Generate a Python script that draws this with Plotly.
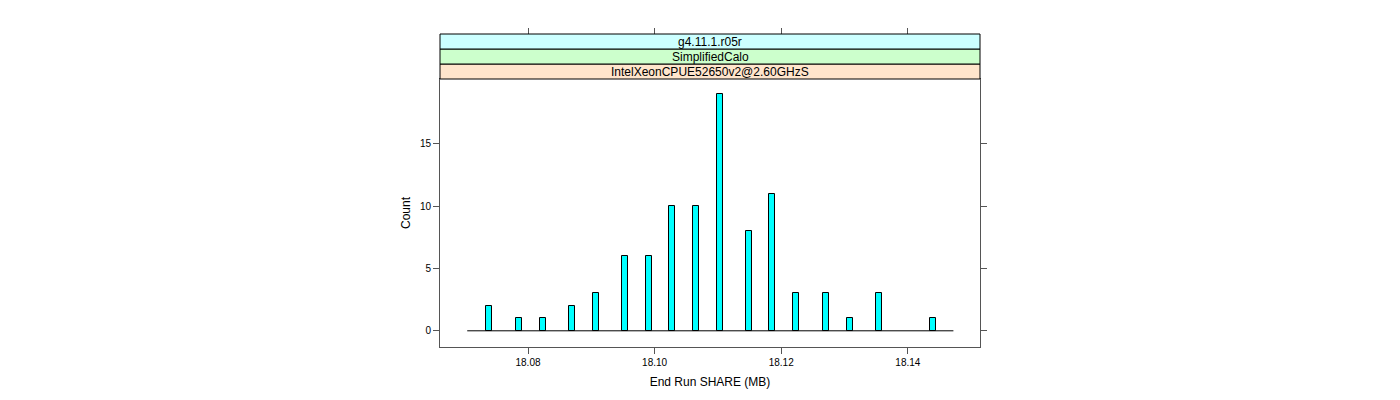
import plotly.graph_objects as go

# Data
bin_centers = [18.0739, 18.0786, 18.0823, 18.0870, 18.0907, 18.0953, 18.0991,
               18.1028, 18.1065, 18.1103, 18.1149, 18.1186, 18.1224, 18.1271,
               18.1309, 18.1355, 18.1439]
counts = [2, 1, 1, 2, 3, 6, 6, 10, 10, 19, 8, 11, 3, 3, 1, 3, 1]
bin_width = 0.00095
hist_range = [18.0704, 18.1472]
x_ticks = [18.08, 18.10, 18.12, 18.14]
x_tick_labels = ["18.08", "18.10", "18.12", "18.14"]
y_ticks = [0, 5, 10, 15]
strip_labels = ["IntelXeonCPUE52650v2@2.60GHzS", "SimplifiedCalo", "g4.11.1.r05r"]
strip_colors = ["#FFE5CC", "#CCFFCC", "#CCFFFF"]

FONT = "Liberation Sans, Arial, Helvetica, sans-serif"
AXIS_COLOR = "#555555"

fig = go.Figure()

fig.add_trace(go.Scatter(
    x=hist_range, y=[0, 0], mode="lines",
    line=dict(color="black", width=1), hoverinfo="skip", showlegend=False,
))

fig.add_trace(go.Bar(
    x=bin_centers, y=counts, width=bin_width,
    marker=dict(color="#00FFFF", line=dict(color="black", width=1)),
    showlegend=False,
))

# a hidden trace on a top axis to draw ticks above the strips
fig.add_trace(go.Scatter(x=hist_range, y=[0, 0], xaxis="x2", yaxis="y",
                         mode="none", hoverinfo="skip", showlegend=False))

panel_top = 0.8562
strip_h = (1 - panel_top) / 3

shapes = []
annotations = []
for i, (lab, col) in enumerate(zip(strip_labels, strip_colors)):
    y0 = panel_top + i * strip_h
    y1 = y0 + strip_h
    shapes.append(dict(type="rect", xref="paper", yref="paper", x0=0, x1=1,
                       y0=y0, y1=y1, fillcolor=col,
                       line=dict(color="black", width=1), layer="above"))
    annotations.append(dict(text=lab, xref="paper", yref="paper", x=0.5,
                            y=(y0 + y1) / 2, showarrow=False,
                            font=dict(family=FONT, size=12, color="black"),
                            xanchor="center", yanchor="middle"))

fig.update_layout(
    width=1392, height=392,
    margin=dict(l=432, r=420, t=26, b=53),
    paper_bgcolor="white", plot_bgcolor="white",
    font=dict(family=FONT, size=10, color="black"),
    bargap=0,
    shapes=shapes,
    annotations=annotations,
    xaxis=dict(
        range=[18.0661, 18.1514], tickvals=x_ticks, ticktext=x_tick_labels,
        ticks="outside", ticklen=6, tickcolor=AXIS_COLOR, tickwidth=1,
        showline=True, linecolor=AXIS_COLOR, linewidth=1, mirror=True,
        showgrid=False, zeroline=False,
        title=dict(text="End Run SHARE (MB)", font=dict(size=12), standoff=10),
        tickfont=dict(size=10),
    ),
    xaxis2=dict(
        range=[18.0661, 18.1514], tickvals=x_ticks, overlaying="x",
        anchor="free", position=1, side="top", showticklabels=False,
        ticks="outside", ticklen=6, tickcolor=AXIS_COLOR, tickwidth=1,
        showline=False, showgrid=False, zeroline=False,
    ),
    yaxis=dict(
        domain=[0, panel_top], range=[-1.3, 20.2], tickvals=y_ticks,
        ticks="outside", ticklen=6, tickcolor=AXIS_COLOR, tickwidth=1,
        showline=True, linecolor=AXIS_COLOR, linewidth=1, mirror="ticks",
        showgrid=False, zeroline=False,
        title=dict(text="Count", font=dict(size=12), standoff=6),
        tickfont=dict(size=10),
    ),
)

fig.write_html("out.html")
